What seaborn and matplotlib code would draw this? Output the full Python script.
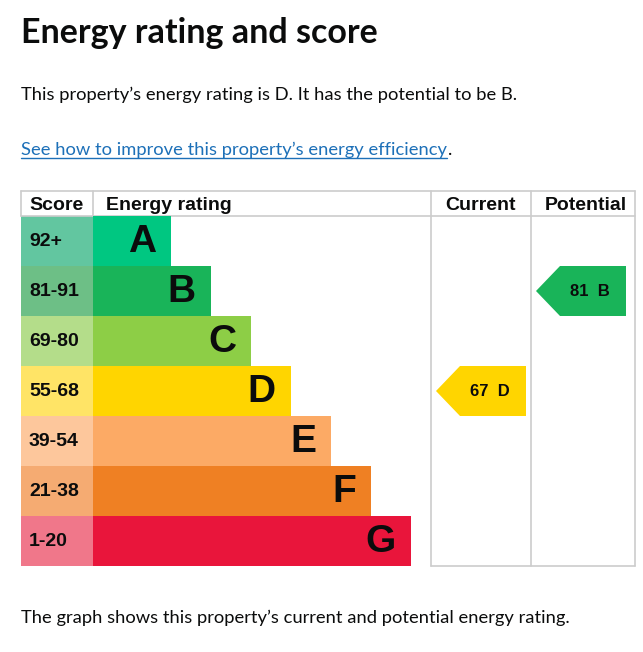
import matplotlib
matplotlib.use("Agg")
import matplotlib.pyplot as plt
import seaborn as sns
from matplotlib.patches import Rectangle, Polygon

# chart data
bands = ["A", "B", "C", "D", "E", "F", "G"]
score_ranges = ["92+", "81-91", "69-80", "55-68", "39-54", "21-38", "1-20"]
bar_length = [78, 118, 158, 198, 238, 278, 318]
bar_colors = ["#00c781", "#19b459", "#8dce46", "#ffd500", "#fcaa65", "#ef8023", "#e9153b"]
score_colors = ["#62c6a0", "#6dbf86", "#b4dd8a", "#ffe466", "#fdc79c", "#f5ab72", "#f0778a"]

current_score, current_band = 67, "D"
potential_score, potential_band = 81, "B"

title = "Energy rating and score"
summary = "This property\u2019s energy rating is D. It has the potential to be B."
link_text = "See how to improve this property\u2019s energy efficiency"
footer = "The graph shows this property\u2019s current and potential energy rating."

sns.set_theme(style="white")
plt.rcParams["font.family"] = ["Liberation Sans", "DejaVu Sans"]

W, H = 643, 652
fig = plt.figure(figsize=(W / 100, H / 100), dpi=100)
ax = fig.add_axes([0, 0, 1, 1])
ax.set_xlim(0, W)
ax.set_ylim(H, 0)
ax.axis("off")

# table geometry (pixels)
left, score_x, bar_x, cur_x, pot_x, right = 21, 93, 93, 431, 531, 635
top, head_bottom, row_h = 191, 216, 50
bottom = head_bottom + row_h * len(bands)
grid = "#cccccc"
ink = "#0b0c0c"

# bars through seaborn in their own axes
bax = fig.add_axes([bar_x / W, 1 - bottom / H, (cur_x - bar_x) / W, (bottom - head_bottom) / H])
sns.barplot(x=bar_length, y=bands, hue=bands, palette=bar_colors, orient="h",
            width=1.0, legend=False, ax=bax, saturation=1, linewidth=0, edgecolor="none")
bax.set_xlim(0, cur_x - bar_x)
bax.set_ylim(len(bands) - 0.5, -0.5)
bax.axis("off")
for i, (b, L) in enumerate(zip(bands, bar_length)):
    bax.text(L - 15, i + 0.02, b, ha="right", va="center", fontsize=28,
             fontweight="bold", color=ink)

# score cells
for i, (s, c) in enumerate(zip(score_ranges, score_colors)):
    y0 = head_bottom + i * row_h
    ax.add_patch(Rectangle((left, y0), score_x - left, row_h, color=c, lw=0))
    ax.text(29, y0 + row_h / 2, s, ha="left", va="center", fontsize=14,
            fontweight="bold", color=ink)

# grid lines
lw = 1.2
ax.plot([left, right], [top, top], color=grid, lw=lw)
ax.plot([left, right], [head_bottom, head_bottom], color=grid, lw=lw)
ax.plot([cur_x, right], [bottom, bottom], color=grid, lw=lw)
ax.plot([left, left], [top, head_bottom], color=grid, lw=lw)
ax.plot([score_x, score_x], [top, head_bottom], color=grid, lw=lw)
for x in (cur_x, pot_x, right):
    ax.plot([x, x], [top, bottom], color=grid, lw=lw)

# headers
hy = 210.5
ax.text(29, hy, "Score", fontsize=14, fontweight="bold", va="baseline", color=ink)
ax.text(106, hy, "Energy rating", fontsize=14, fontweight="bold", va="baseline", color=ink)
ax.text((cur_x + pot_x) / 2, hy, "Current", fontsize=14, fontweight="bold", va="baseline",
        ha="center", color=ink)
ax.text((pot_x + right) / 2 + 3, hy, "Potential", fontsize=14, fontweight="bold", va="baseline",
        ha="center", color=ink)


def arrow(col_x, score, band):
    i = bands.index(band)
    y0 = head_bottom + i * row_h
    tip = col_x + 5
    body = tip + 24
    end = col_x + 95
    pts = [(tip, y0 + row_h / 2), (body, y0), (end, y0), (end, y0 + row_h), (body, y0 + row_h)]
    ax.add_patch(Polygon(pts, closed=True, color=bar_colors[i], lw=0))
    ax.text((body + end) / 2 - 3, y0 + row_h / 2 + 0.5, f"{score}  {band}", ha="center",
            va="center", fontsize=12, fontweight="bold", color=ink)


arrow(cur_x, current_score, current_band)
arrow(pot_x, potential_score, potential_band)

# page text
body_font = ["Lato", "DejaVu Sans"]
ax.text(21, 43, title, fontsize=24.5, fontweight="bold", va="baseline",
        family=body_font, color=ink)
ax.text(21, 100, summary, fontsize=13.2, va="baseline", family=body_font, color=ink)
lt = ax.text(21, 155, link_text, fontsize=13.2, va="baseline", family=body_font, color="#1d70b8")
ax.text(21, 623, footer, fontsize=13.2, va="baseline", family=body_font, color=ink)

fig.canvas.draw()
bb = lt.get_window_extent().transformed(ax.transData.inverted())
x1 = max(bb.x0, bb.x1)
ax.plot([21, x1], [157.5, 157.5], color="#1d70b8", lw=1)
ax.text(x1 + 1, 155, ".", fontsize=13.2, va="baseline", family=body_font, color=ink)

fig.savefig("out.png", dpi=100)
